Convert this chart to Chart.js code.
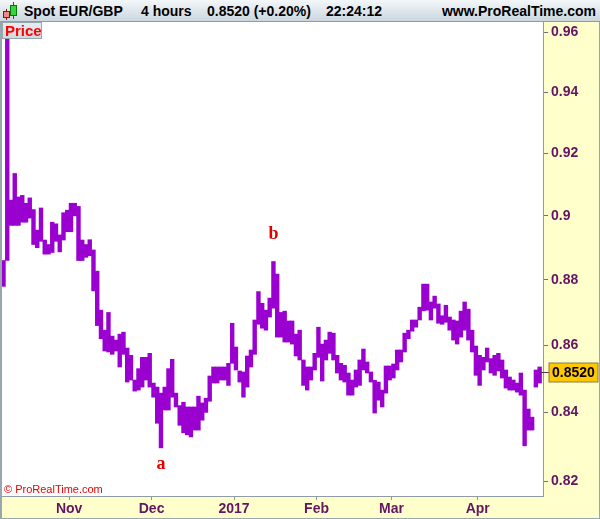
<!DOCTYPE html>
<html>
<head>
<meta charset="utf-8">
<title>Spot EUR/GBP - 4 hours</title>
<script src="https://cdn.jsdelivr.net/npm/chart.js@4.4.1/dist/chart.umd.min.js"></script>
<style>
	html, body { margin: 0; padding: 0; background: #fff; }
	#wrap { position: relative; width: 600px; height: 519px; overflow: hidden; font-family: 'Liberation Sans', Arial, sans-serif; }
	#chart { position: absolute; left: 0; top: 0; }
	#header { position: absolute; left: 0; top: 0; width: 600px; height: 21px; background: linear-gradient(#f3f7f9, #cbd6de); border-bottom: 1px solid #8e9ca6; }
	#header .txt { position: absolute; top: 3px; font-weight: bold; font-size: 14px; line-height: 16px; color: #000; white-space: pre; }
	#header .candle { position: absolute; box-sizing: border-box; border: 1px solid; }
	#header .wick { position: absolute; width: 1px; }
	#priceTag { position: absolute; left: 2px; top: 22px; width: 40px; height: 17px; box-sizing: border-box; background: linear-gradient(#e6edf1, #cfd9e0); border: 1px solid #97a5af; color: #ff0000; font-weight: bold; font-size: 15px; line-height: 15px; padding-left: 2px; }
</style>
</head>
<body>
<div id="wrap">
	<canvas id="chart" width="600" height="519"></canvas>
	<div id="header">
		<div class="wick" style="left:6px; top:9px; height:11px; background:#b00000;"></div>
		<div class="candle" style="left:3px; top:11px; width:7px; height:7px; background:#f08a8a; border-color:#b00000;"></div>
		<div class="wick" style="left:13px; top:2px; height:17px; background:#007a00;"></div>
		<div class="candle" style="left:10px; top:5px; width:7px; height:11px; background:#3fd23f; border-color:#007a00;"></div>
		<span class="txt" style="left:24px;">Spot EUR/GBP</span>
		<span class="txt" style="left:141px;">4 hours</span>
		<span class="txt" style="left:207px;">0.8520 (+0.20%)</span>
		<span class="txt" style="left:326px;">22:24:12</span>
		<span class="txt" style="right:4px;">www.ProRealTime.com</span>
	</div>
	<div id="priceTag">Price</div>
</div>
<script>
// trading days shown on the chart (weekdays, 6 Oct 2016 -> 25 Apr 2017)
var firstDay = '2016-10-06';
var lastDay = '2017-04-25';

// daily low / high of the 4-hour bars, one pair per trading day
var lows = [
	0.8780, 0.8860, 0.8970, 0.8970, 0.8970, 0.8980, 0.8980, 0.8993, 0.8910, 0.8900,
	0.8920, 0.8880, 0.8880, 0.8885, 0.8920, 0.8887, 0.8924, 0.8950, 0.8950, 0.9000,
	0.8860, 0.8860, 0.8870, 0.8875, 0.8766, 0.8660, 0.8620, 0.8583, 0.8580, 0.8573,
	0.8583, 0.8535, 0.8573, 0.8490, 0.8496, 0.8463, 0.8466, 0.8475, 0.8496, 0.8475,
	0.8445, 0.8368, 0.8296, 0.8407, 0.8407, 0.8445, 0.8416, 0.8362, 0.8340, 0.8334,
	0.8328, 0.8348, 0.8348, 0.8377, 0.8400, 0.8433, 0.8487, 0.8487, 0.8496, 0.8496,
	0.8480, 0.8546, 0.8526, 0.8490, 0.8445, 0.8475, 0.8535, 0.8573, 0.8664, 0.8652,
	0.8646, 0.8686, 0.8713, 0.8625, 0.8625, 0.8610, 0.8610, 0.8604, 0.8568, 0.8556,
	0.8480, 0.8466, 0.8496, 0.8526, 0.8564, 0.8493, 0.8556, 0.8576, 0.8556, 0.8517,
	0.8496, 0.8490, 0.8451, 0.8451, 0.8475, 0.8480, 0.8526, 0.8517, 0.8490, 0.8398,
	0.8436, 0.8416, 0.8457, 0.8496, 0.8502, 0.8526, 0.8550, 0.8580, 0.8620, 0.8643,
	0.8655, 0.8677, 0.8705, 0.8707, 0.8677, 0.8713, 0.8667, 0.8664, 0.8670, 0.8646,
	0.8616, 0.8604, 0.8625, 0.8646, 0.8616, 0.8580, 0.8510, 0.8480, 0.8526, 0.8550,
	0.8517, 0.8510, 0.8523, 0.8502, 0.8472, 0.8466, 0.8466, 0.8460, 0.8451, 0.8302,
	0.8348, 0.8348, 0.8475, 0.8487
];
var highs = [
	0.8860, 0.9660, 0.9050, 0.9135, 0.9060, 0.9065, 0.9040, 0.9057, 0.9020, 0.8955,
	0.9025, 0.8924, 0.8910, 0.8980, 0.8975, 0.8940, 0.9010, 0.9018, 0.9040, 0.9040,
	0.9030, 0.8924, 0.8910, 0.8925, 0.8893, 0.8827, 0.8707, 0.8646, 0.8700, 0.8628,
	0.8616, 0.8634, 0.8640, 0.8592, 0.8570, 0.8496, 0.8530, 0.8564, 0.8564, 0.8576,
	0.8487, 0.8475, 0.8457, 0.8475, 0.8530, 0.8558, 0.8457, 0.8420, 0.8430, 0.8416,
	0.8416, 0.8416, 0.8448, 0.8428, 0.8442, 0.8508, 0.8535, 0.8535, 0.8535, 0.8535,
	0.8546, 0.8667, 0.8595, 0.8523, 0.8520, 0.8568, 0.8586, 0.8677, 0.8764, 0.8728,
	0.8707, 0.8744, 0.8857, 0.8818, 0.8700, 0.8704, 0.8674, 0.8674, 0.8634, 0.8646,
	0.8556, 0.8535, 0.8535, 0.8576, 0.8655, 0.8604, 0.8616, 0.8640, 0.8637, 0.8570,
	0.8546, 0.8540, 0.8517, 0.8496, 0.8526, 0.8556, 0.8589, 0.8550, 0.8520, 0.8495,
	0.8490, 0.8466, 0.8538, 0.8538, 0.8544, 0.8586, 0.8586, 0.8637, 0.8646, 0.8677,
	0.8677, 0.8716, 0.8787, 0.8787, 0.8732, 0.8750, 0.8726, 0.8690, 0.8722, 0.8686,
	0.8677, 0.8674, 0.8704, 0.8732, 0.8710, 0.8646, 0.8598, 0.8570, 0.8564, 0.8592,
	0.8560, 0.8570, 0.8576, 0.8556, 0.8526, 0.8505, 0.8496, 0.8487, 0.8517, 0.8466,
	0.8410, 0.8386, 0.8526, 0.8535
];
var lastPrice = 0.8520;

// axis labels
var monthStarts = ['2016-11-01', '2016-12-01', '2017-01-02', '2017-02-01', '2017-03-01', '2017-04-03'];
var monthLabels = ['Nov', 'Dec', '2017', 'Feb', 'Mar', 'Apr'];
var priceTicks = [0.82, 0.84, 0.86, 0.88, 0.9, 0.92, 0.94, 0.96];
var priceTickLabels = ['0.82', '0.84', '0.86', '0.88', '0.9', '0.92', '0.94', '0.96'];

// wave labels
var waveLabels = ['a', 'b'];
var waveDays = ['2016-12-05', '2017-01-16'];
var wavePrices = [0.8248, 0.8943];

function tradingDays(from, to) {
	var out = [];
	var d = new Date(from + 'T00:00:00Z');
	var end = new Date(to + 'T00:00:00Z');
	while (d <= end) {
		var wd = d.getUTCDay();
		if (wd !== 0 && wd !== 6) {
			out.push(d.toISOString().slice(0, 10));
		}
		d = new Date(d.getTime() + 86400000);
	}
	return out;
}

var days = tradingDays(firstDay, lastDay);

var purple = '#9a00d0';
var axisText = '#631463';

var panels = {
	id: 'panels',
	beforeDraw: function(chart) {
		var ctx = chart.ctx, a = chart.chartArea;
		ctx.save();
		ctx.fillStyle = '#ffffff';
		ctx.fillRect(0, 0, chart.width, chart.height);
		ctx.fillStyle = '#ffffcc';
		ctx.fillRect(a.right, 0, chart.width - a.right, chart.height);
		ctx.fillRect(0, a.bottom, chart.width, chart.height - a.bottom);
		ctx.strokeStyle = '#98a6b0';
		ctx.lineWidth = 2;
		ctx.beginPath();
		ctx.moveTo(1, 0);
		ctx.lineTo(1, chart.height);
		ctx.stroke();
		ctx.lineWidth = 1;
		ctx.strokeRect(0.5, 0.5, chart.width - 1, chart.height - 1);
		ctx.restore();
	},
	afterDraw: function(chart) {
		var ctx = chart.ctx, a = chart.chartArea;
		var x = chart.scales.x, y = chart.scales.y;
		ctx.save();

		ctx.fillStyle = '#ee0000';
		ctx.font = '11px "Liberation Sans", Arial, sans-serif';
		ctx.textBaseline = 'alphabetic';
		ctx.textAlign = 'left';
		ctx.fillText('\u00a9 ProRealTime.com', a.left + 2, a.bottom - 3);

		ctx.font = 'bold 18px "Liberation Serif", "Times New Roman", serif';
		ctx.textAlign = 'center';
		ctx.textBaseline = 'middle';
		ctx.fillStyle = '#e00000';
		waveLabels.forEach(function(lbl, i) {
			ctx.fillText(lbl, x.getPixelForValue(days.indexOf(waveDays[i])), y.getPixelForValue(wavePrices[i]));
		});

		var py = Math.round(y.getPixelForValue(lastPrice)) + 0.5;
		ctx.strokeStyle = '#5a2a5a';
		ctx.beginPath();
		ctx.moveTo(a.right - 4, py);
		ctx.lineTo(a.right + 6, py);
		ctx.stroke();
		ctx.fillStyle = '#ffc800';
		ctx.fillRect(a.right + 6, py - 9.5, 49, 19);
		ctx.strokeStyle = '#8a7a4a';
		ctx.strokeRect(a.right + 6, py - 9.5, 49, 19);
		ctx.fillStyle = '#000000';
		ctx.font = 'bold 14px "Liberation Sans", Arial, sans-serif';
		ctx.textAlign = 'left';
		ctx.fillText(lastPrice.toFixed(4), a.right + 9, py + 1);
		ctx.restore();
	}
};

var bars = days.map(function(d, i) {
	return { x: i, y: [lows[i], highs[i]] };
});

new Chart(document.getElementById('chart').getContext('2d'), {
	type: 'bar',
	data: {
		datasets: [{
			label: 'EUR/GBP',
			data: bars,
			backgroundColor: purple,
			borderWidth: 0,
			barPercentage: 1,
			categoryPercentage: 1,
			clip: 0
		}]
	},
	options: {
		responsive: false,
		animation: false,
		devicePixelRatio: 1,
		layout: { padding: { left: 2, top: 22, right: 0, bottom: 0 } },
		plugins: { legend: { display: false }, tooltip: { enabled: false } },
		scales: {
			x: {
				type: 'linear',
				offset: false,
				min: -0.4,
				max: 143.9,
				afterBuildTicks: function(scale) {
					scale.ticks = monthStarts.map(function(m) {
						return { value: days.indexOf(m) - 0.5 };
					});
				},
				afterFit: function(scale) { scale.height = 23; },
				ticks: {
					autoSkip: false,
					maxRotation: 0,
					padding: 1,
					color: axisText,
					font: { family: '"Liberation Sans", Arial, sans-serif', size: 14, weight: 'bold' },
					callback: function(v, i) { return monthLabels[i]; }
				},
				grid: { offset: false, drawOnChartArea: false, tickLength: 4, color: '#8a98a2' },
				border: { color: '#8e9ca6' }
			},
			y: {
				type: 'logarithmic',
				position: 'right',
				bounds: 'data',
				min: 0.8157,
				max: 0.9634,
				afterBuildTicks: function(scale) {
					scale.ticks = priceTicks.map(function(v) { return { value: v }; });
				},
				afterFit: function(scale) { scale.width = 57; },
				ticks: {
					padding: 3,
					color: axisText,
					font: { family: '"Liberation Sans", Arial, sans-serif', size: 14, weight: 'bold' },
					callback: function(v, i) { return priceTickLabels[i]; }
				},
				grid: { drawOnChartArea: false, tickLength: 5, color: '#7a6a7a' },
				border: { color: '#8e9ca6' }
			}
		}
	},
	plugins: [panels]
});
</script>
</body>
</html>
